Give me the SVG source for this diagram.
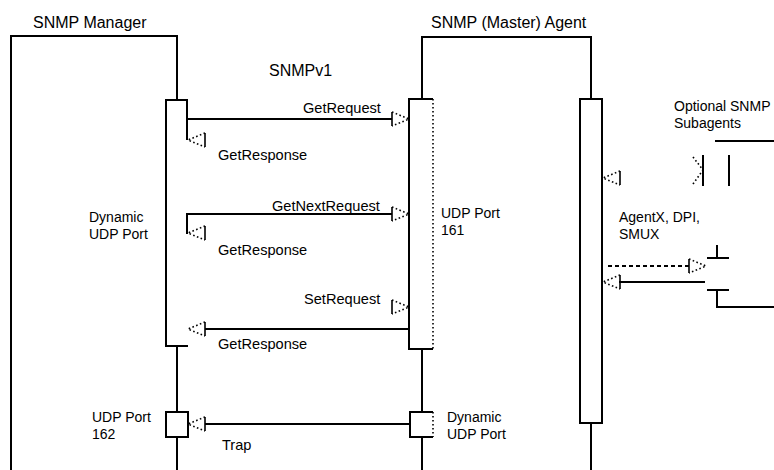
<svg xmlns="http://www.w3.org/2000/svg" width="774" height="470" viewBox="0 0 774 470">
<style>
.ln{fill:none;stroke:#000;stroke-width:2}
.base{fill:none;stroke:#000;stroke-width:1.6}
.dot{fill:none;stroke:#000;stroke-width:1.6;stroke-dasharray:1.6 2.4}
.dash{fill:none;stroke:#000;stroke-width:2;stroke-dasharray:4 3}
text{font-family:"Liberation Sans",Arial,sans-serif;font-size:14.6px;fill:#000}
.t{font-size:16px}
.s{font-size:14px}
</style>
<defs>
<g id="ahR"><path class="base" d="M-17,-7V7"/><path class="dot" d="M-17,-7L0,0L-17,7"/></g>
<g id="ahL"><path class="base" d="M17,-7V7"/><path class="dot" d="M17,-7L0,0L17,7"/></g>
</defs>
<rect width="774" height="470" fill="#fff"/>

<g id="manager">
<path class="ln" d="M11,470V36H177V100"/>
<path class="ln" d="M187,140V100H166V346H188"/>
<path class="ln" d="M177,346V412M177,437V470"/>
<rect class="ln" x="166" y="412" width="22" height="25"/>
<text class="t" x="33" y="28">SNMP Manager</text>
<text class="s" x="89" y="222">Dynamic</text>
<text class="s" x="89" y="238.5">UDP Port</text>
<text class="s" x="92" y="422">UDP Port</text>
<text class="s" x="92" y="438.5">162</text>
</g>

<g id="agent">
<path class="ln" d="M422,99V37H591V99"/>
<path class="ln" d="M433,99H409V349H433"/>
<path class="dot" d="M433,99V349"/>
<path class="ln" d="M422,349V412M422,437V470"/>
<path class="ln" d="M433,412H410V437H433"/>
<path class="dot" d="M433,412V437"/>
<text class="t" x="431" y="28">SNMP (Master) Agent</text>
<text class="s" x="441" y="218">UDP Port</text>
<text class="s" x="441" y="234.5">161</text>
<text class="s" x="447" y="422">Dynamic</text>
<text class="s" x="447" y="438.5">UDP Port</text>
</g>

<g id="agent-subagent-side">
<rect class="ln" x="580" y="99" width="22" height="324"/>
<path class="ln" d="M591,423V470"/>
<text class="s" x="619" y="222">AgentX, DPI,</text>
<text class="s" x="619" y="238.5">SMUX</text>
</g>

<g id="subagents">
<text class="s" x="674" y="111">Optional SNMP</text>
<text class="s" x="674" y="127.5">Subagents</text>
<path class="ln" d="M715,141H774M703,155V186M729,155V186"/>
<path class="ln" d="M717,245V258M707,258H729"/>
<path class="ln" d="M707,290H729M717,290V307H774"/>
</g>

<g id="label-version">
<text class="t" x="269" y="76">SNMPv1</text>
</g>

<g id="connectors">
<path class="ln" d="M187,119H392"/>
<use href="#ahR" x="409" y="119"/>
<text x="303" y="113">GetRequest</text>

<use href="#ahL" x="188" y="140"/>
<text x="218" y="160">GetResponse</text>

<path class="ln" d="M187,234V214H392"/>
<use href="#ahR" x="409" y="214"/>
<text x="272" y="211">GetNextRequest</text>

<use href="#ahL" x="188" y="233"/>
<text x="218" y="255">GetResponse</text>

<use href="#ahR" x="409" y="307"/>
<text x="304" y="304">SetRequest</text>

<path class="ln" d="M205,329H409"/>
<use href="#ahL" x="188" y="329"/>
<text x="218" y="349">GetResponse</text>

<path class="ln" d="M205,424H410"/>
<use href="#ahL" x="188" y="424"/>
<text x="222" y="450">Trap</text>

<use href="#ahL" x="603" y="178"/>
<path class="dot" d="M693,157L703,170L693,184"/>

<path class="dash" d="M608,266H690"/>
<use href="#ahR" x="706" y="266"/>
<path class="ln" d="M619,282H705"/>
<use href="#ahL" x="603" y="282"/>
</g>
</svg>
